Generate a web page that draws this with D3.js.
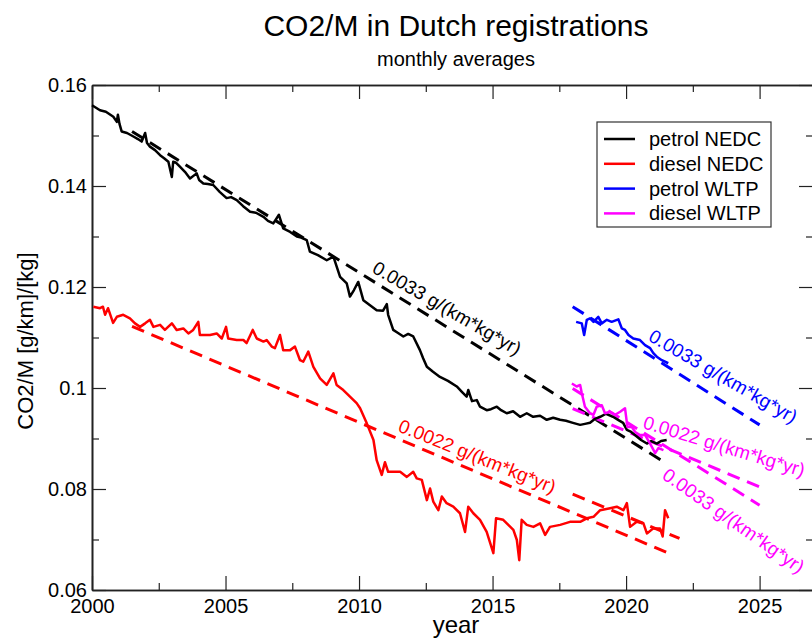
<!DOCTYPE html>
<html><head><meta charset="utf-8">
<script src="https://cdn.jsdelivr.net/npm/d3@7"></script>
<style>
html,body{margin:0;padding:0;background:#fff;}
svg{display:block;font-family:"Liberation Sans",Arial,Helvetica,sans-serif;}
</style></head>
<body>
<svg id="chart" width="812" height="639"></svg>
<script>
// ---------- data ----------
const seriesNames = ["petrol NEDC","diesel NEDC","petrol WLTP","diesel WLTP"];
const seriesColors = ["#000000","#ff0000","#0000ff","#ff00ff"];

const petrolNEDC = [[2000.00,0.1560],[2000.30,0.1550],[2000.52,0.1547],[2000.80,0.1537],[2000.93,0.1527],[2000.97,0.1541],[2001.03,0.1523],[2001.11,0.1508],[2001.31,0.1505],[2001.55,0.1498],[2001.72,0.1493],[2001.86,0.1488],[2001.99,0.1505],[2002.06,0.1485],[2002.17,0.1478],[2002.36,0.1471],[2002.55,0.1461],[2002.70,0.1455],[2002.86,0.1448],[2002.99,0.1418],[2003.04,0.1448],[2003.15,0.1446],[2003.30,0.1438],[2003.48,0.1428],[2003.67,0.1415],[2003.92,0.1425],[2004.01,0.1412],[2004.17,0.1405],[2004.34,0.1404],[2004.54,0.1402],[2004.79,0.1388],[2005.04,0.1376],[2005.21,0.1378],[2005.42,0.1372],[2005.66,0.1360],[2005.92,0.1349],[2006.14,0.1347],[2006.42,0.1339],[2006.59,0.1331],[2006.79,0.1326],[2007.00,0.1343],[2007.16,0.1316],[2007.42,0.1309],[2007.67,0.1300],[2007.83,0.1298],[2008.04,0.1293],[2008.16,0.1270],[2008.46,0.1263],[2008.79,0.1253],[2009.04,0.1260],[2009.29,0.1220],[2009.54,0.1207],[2009.66,0.1181],[2009.81,0.1194],[2009.97,0.1210],[2010.16,0.1174],[2010.41,0.1164],[2010.66,0.1154],[2010.90,0.1153],[2011.04,0.1166],[2011.09,0.1145],[2011.28,0.1115],[2011.46,0.1109],[2011.66,0.1102],[2011.84,0.1107],[2012.03,0.1102],[2012.28,0.1075],[2012.40,0.1059],[2012.54,0.1042],[2012.77,0.1032],[2013.03,0.1022],[2013.33,0.1014],[2013.66,0.1003],[2013.86,0.0992],[2014.03,0.0983],[2014.09,0.0996],[2014.23,0.0974],[2014.41,0.0976],[2014.53,0.0963],[2014.78,0.0956],[2014.94,0.0958],[2015.16,0.0963],[2015.32,0.0956],[2015.53,0.0950],[2015.77,0.0954],[2016.03,0.0943],[2016.28,0.0950],[2016.52,0.0943],[2016.78,0.0945],[2017.03,0.0937],[2017.27,0.0941],[2017.53,0.0937],[2017.75,0.0935],[2018.01,0.0931],[2018.28,0.0927],[2018.46,0.0929],[2018.65,0.0931],[2018.84,0.0939],[2019.03,0.0943],[2019.25,0.0949],[2019.51,0.0943],[2019.70,0.0937],[2019.89,0.0931],[2020.03,0.0917],[2020.19,0.0913],[2020.40,0.0904],[2020.56,0.0897],[2020.78,0.0890],[2020.94,0.0895],[2021.15,0.0890],[2021.31,0.0895],[2021.52,0.0897]];

const dieselNEDC = [[2000.05,0.1161],[2000.30,0.1158],[2000.41,0.1161],[2000.49,0.1145],[2000.60,0.1158],[2000.79,0.1129],[2000.93,0.1141],[2001.17,0.1145],[2001.42,0.1138],[2001.61,0.1128],[2001.80,0.1121],[2001.99,0.1128],[2002.17,0.1135],[2002.30,0.1121],[2002.55,0.1125],[2002.73,0.1115],[2002.99,0.1128],[2003.17,0.1115],[2003.42,0.1118],[2003.61,0.1108],[2003.79,0.1115],[2003.98,0.1131],[2004.04,0.1105],[2004.42,0.1105],[2004.67,0.1108],[2004.86,0.1098],[2005.02,0.1121],[2005.10,0.1098],[2005.42,0.1095],[2005.67,0.1095],[2005.79,0.1089],[2006.02,0.1115],[2006.17,0.1098],[2006.42,0.1092],[2006.54,0.1095],[2006.73,0.1082],[2006.85,0.1079],[2007.04,0.1105],[2007.16,0.1075],[2007.42,0.1075],[2007.60,0.1082],[2007.79,0.1055],[2007.91,0.1052],[2008.10,0.1072],[2008.29,0.1042],[2008.54,0.1019],[2008.79,0.1006],[2009.04,0.1029],[2009.16,0.1006],[2009.41,0.0996],[2009.66,0.0983],[2009.91,0.0970],[2010.04,0.0960],[2010.29,0.0930],[2010.54,0.0897],[2010.66,0.0857],[2010.85,0.0828],[2010.97,0.0853],[2011.09,0.0834],[2011.35,0.0834],[2011.54,0.0834],[2011.79,0.0824],[2012.03,0.0834],[2012.16,0.0821],[2012.35,0.0818],[2012.54,0.0778],[2012.66,0.0801],[2012.78,0.0775],[2012.97,0.0758],[2013.10,0.0785],[2013.28,0.0772],[2013.53,0.0765],[2013.78,0.0752],[2013.97,0.0715],[2014.09,0.0765],[2014.28,0.0752],[2014.53,0.0739],[2014.78,0.0715],[2015.03,0.0673],[2015.13,0.0742],[2015.40,0.0739],[2015.59,0.0729],[2015.78,0.0719],[2015.91,0.0699],[2016.00,0.0659],[2016.09,0.0739],[2016.28,0.0729],[2016.53,0.0725],[2016.78,0.0732],[2016.97,0.0709],[2017.15,0.0725],[2017.53,0.0729],[2017.90,0.0735],[2018.28,0.0735],[2018.53,0.0742],[2018.78,0.0745],[2019.03,0.0758],[2019.40,0.0762],[2019.65,0.0765],[2019.90,0.0758],[2020.03,0.0772],[2020.15,0.0725],[2020.40,0.0735],[2020.65,0.0732],[2020.78,0.0712],[2021.02,0.0722],[2021.27,0.0722],[2021.37,0.0706],[2021.46,0.0758],[2021.58,0.0742]];

const petrolWLTP = [[2018.13,0.1131],[2018.34,0.1128],[2018.43,0.1105],[2018.53,0.1135],[2018.65,0.1138],[2018.78,0.1131],[2018.96,0.1141],[2019.09,0.1128],[2019.28,0.1135],[2019.46,0.1131],[2019.71,0.1136],[2019.84,0.1118],[2019.96,0.1115],[2020.09,0.1105],[2020.27,0.1098],[2020.52,0.1095],[2020.71,0.1085],[2020.90,0.1079],[2021.02,0.1069],[2021.15,0.1062],[2021.34,0.1055],[2021.58,0.1049]];

const dieselWLTP = [[2017.97,0.1009],[2018.15,0.1003],[2018.28,0.1006],[2018.34,0.0990],[2018.46,0.0963],[2018.65,0.0950],[2018.78,0.0947],[2018.90,0.0963],[2019.09,0.0966],[2019.21,0.0950],[2019.40,0.0953],[2019.59,0.0947],[2019.78,0.0953],[2019.96,0.0960],[2020.05,0.0923],[2020.21,0.0923],[2020.34,0.0913],[2020.52,0.0907],[2020.71,0.0907],[2020.90,0.0890],[2021.09,0.0871],[2021.21,0.0881],[2021.40,0.0877]];

// linear trend lines: [start, end] as [year, value]
const trendPetrolNEDC = [[2001.5,0.1508],[2021.5,0.0851]];
const trendDieselNEDC = [[2001.5,0.1122],[2021.5,0.0675]];
const trendDieselNEDC2 = [[2018.0,0.0790],[2022.0,0.0702]];
const trendPetrolWLTP = [[2018.0,0.1161],[2025.0,0.0927]];
const trendDieselWLTP1 = [[2018.0,0.0959],[2025.0,0.0804]];
const trendDieselWLTP2 = [[2018.0,0.0999],[2025.0,0.0768]];

// trend annotations: text, series index, anchor [year, value], angle
const trendLabelTexts = ["0.0033 g/(km*kg*yr)","0.0022 g/(km*kg*yr)","0.0033 g/(km*kg*yr)","0.0022 g/(km*kg*yr)","0.0033 g/(km*kg*yr)"];
const trendLabelSeries = [0,1,2,3,3];
const trendLabelAnchors = [[2010.45,0.1230],[2011.42,0.0915],[2020.79,0.1095],[2020.60,0.0921],[2021.31,0.0822]];
const trendLabelAngles = [30,22,30,17,35];

const xMajorTicks = [2000,2005,2010,2015,2020,2025];
const xMinorTicks = [2002.5,2007.5,2012.5,2017.5,2022.5];
const yMajorTicks = [0.06,0.08,0.10,0.12,0.14,0.16];
const yTickLabels = ["0.06","0.08","0.1","0.12","0.14","0.16"];
const yMinorTicks = [0.07,0.09,0.11,0.13,0.15];

// ---------- chart ----------
const svg = d3.select("#chart");
const L = 92, R = 813, T = 85, B = 590;
const x = d3.scaleLinear().domain([2000, 2027]).range([L, R]);
const y = d3.scaleLinear().domain([0.06, 0.16]).range([B, T]);
const font = "Liberation Sans, Arial, Helvetica, sans-serif";

// titles
svg.append("text").attr("x", 456).attr("y", 36).attr("text-anchor","middle")
  .attr("font-size", 30).text("CO2/M in Dutch registrations");
svg.append("text").attr("x", 456).attr("y", 66).attr("text-anchor","middle")
  .attr("font-size", 20).text("monthly averages");
svg.append("text").attr("x", 456).attr("y", 633).attr("text-anchor","middle")
  .attr("font-size", 24).text("year");
svg.append("text").attr("transform","translate(33,341) rotate(-90)").attr("text-anchor","middle")
  .attr("font-size", 22).text("CO2/M [g/km]/[kg]");

// axes
function styleAxis(g){
  g.selectAll(".domain").attr("stroke","#222").attr("stroke-width",1.6);
  g.selectAll(".tick line").attr("stroke","#222").attr("stroke-width",1.2);
  g.selectAll(".tick text").attr("font-size",20).attr("font-family",font).attr("fill","#000");
}
const gB = svg.append("g").attr("transform",`translate(0,${B})`)
  .call(d3.axisBottom(x).tickValues(xMajorTicks).tickFormat(d3.format("d")).tickSizeInner(-14).tickSizeOuter(0).tickPadding(9));
styleAxis(gB);
const gBm = svg.append("g").attr("transform",`translate(0,${B})`)
  .call(d3.axisBottom(x).tickValues(xMinorTicks).tickFormat("").tickSizeInner(-7).tickSizeOuter(0));
styleAxis(gBm);
const gT = svg.append("g").attr("transform",`translate(0,${T})`)
  .call(d3.axisTop(x).tickValues(xMajorTicks).tickFormat("").tickSizeInner(-14).tickSizeOuter(0));
styleAxis(gT);
const gTm = svg.append("g").attr("transform",`translate(0,${T})`)
  .call(d3.axisTop(x).tickValues(xMinorTicks).tickFormat("").tickSizeInner(-7).tickSizeOuter(0));
styleAxis(gTm);
const gL = svg.append("g").attr("transform",`translate(${L},0)`)
  .call(d3.axisLeft(y).tickValues(yMajorTicks).tickFormat((d,i)=>yTickLabels[i]).tickSizeInner(-14).tickSizeOuter(0).tickPadding(5));
styleAxis(gL);
const gLm = svg.append("g").attr("transform",`translate(${L},0)`)
  .call(d3.axisLeft(y).tickValues(yMinorTicks).tickFormat("").tickSizeInner(-7).tickSizeOuter(0));
styleAxis(gLm);
const gR = svg.append("g").attr("transform",`translate(${R},0)`)
  .call(d3.axisRight(y).tickValues(yMajorTicks).tickFormat("").tickSizeInner(-14).tickSizeOuter(0));
styleAxis(gR);
const gRm = svg.append("g").attr("transform",`translate(${R},0)`)
  .call(d3.axisRight(y).tickValues(yMinorTicks).tickFormat("").tickSizeInner(-7).tickSizeOuter(0));
styleAxis(gRm);

// lines
const line = d3.line().x(d => x(d[0])).y(d => y(d[1]));
const dashed = [
  [trendPetrolNEDC,0],[trendDieselNEDC,1],[trendDieselNEDC2,1],
  [trendPetrolWLTP,2],[trendDieselWLTP1,3],[trendDieselWLTP2,3]
];
dashed.forEach(([d,i]) => {
  svg.append("path").attr("d", line(d)).attr("fill","none")
    .attr("stroke", seriesColors[i]).attr("stroke-width",3)
    .attr("stroke-dasharray","13,8");
});
const solids = [petrolNEDC, dieselNEDC, petrolWLTP, dieselWLTP];
solids.forEach((d,i) => {
  svg.append("path").attr("d", line(d)).attr("fill","none")
    .attr("stroke", seriesColors[i]).attr("stroke-width",2.5)
    .attr("stroke-linejoin","round");
});

// trend labels
trendLabelTexts.forEach((t,i) => {
  const a = trendLabelAnchors[i];
  svg.append("text")
    .attr("transform", `translate(${x(a[0])},${y(a[1])}) rotate(${trendLabelAngles[i]})`)
    .attr("font-size", 19).attr("fill", seriesColors[trendLabelSeries[i]]).text(t);
});

// legend
const lg = svg.append("g");
lg.append("rect").attr("x",597).attr("y",122).attr("width",174).attr("height",105)
  .attr("fill","#fff").attr("stroke","#333").attr("stroke-width",1.2);
seriesNames.forEach((n,i) => {
  const yy = 139 + i*24.8;
  lg.append("line").attr("x1",604).attr("x2",635).attr("y1",yy).attr("y2",yy)
    .attr("stroke",seriesColors[i]).attr("stroke-width",2.5);
  lg.append("text").attr("x",649).attr("y",yy+7).attr("font-size",20).text(n);
});
</script>
</body></html>
